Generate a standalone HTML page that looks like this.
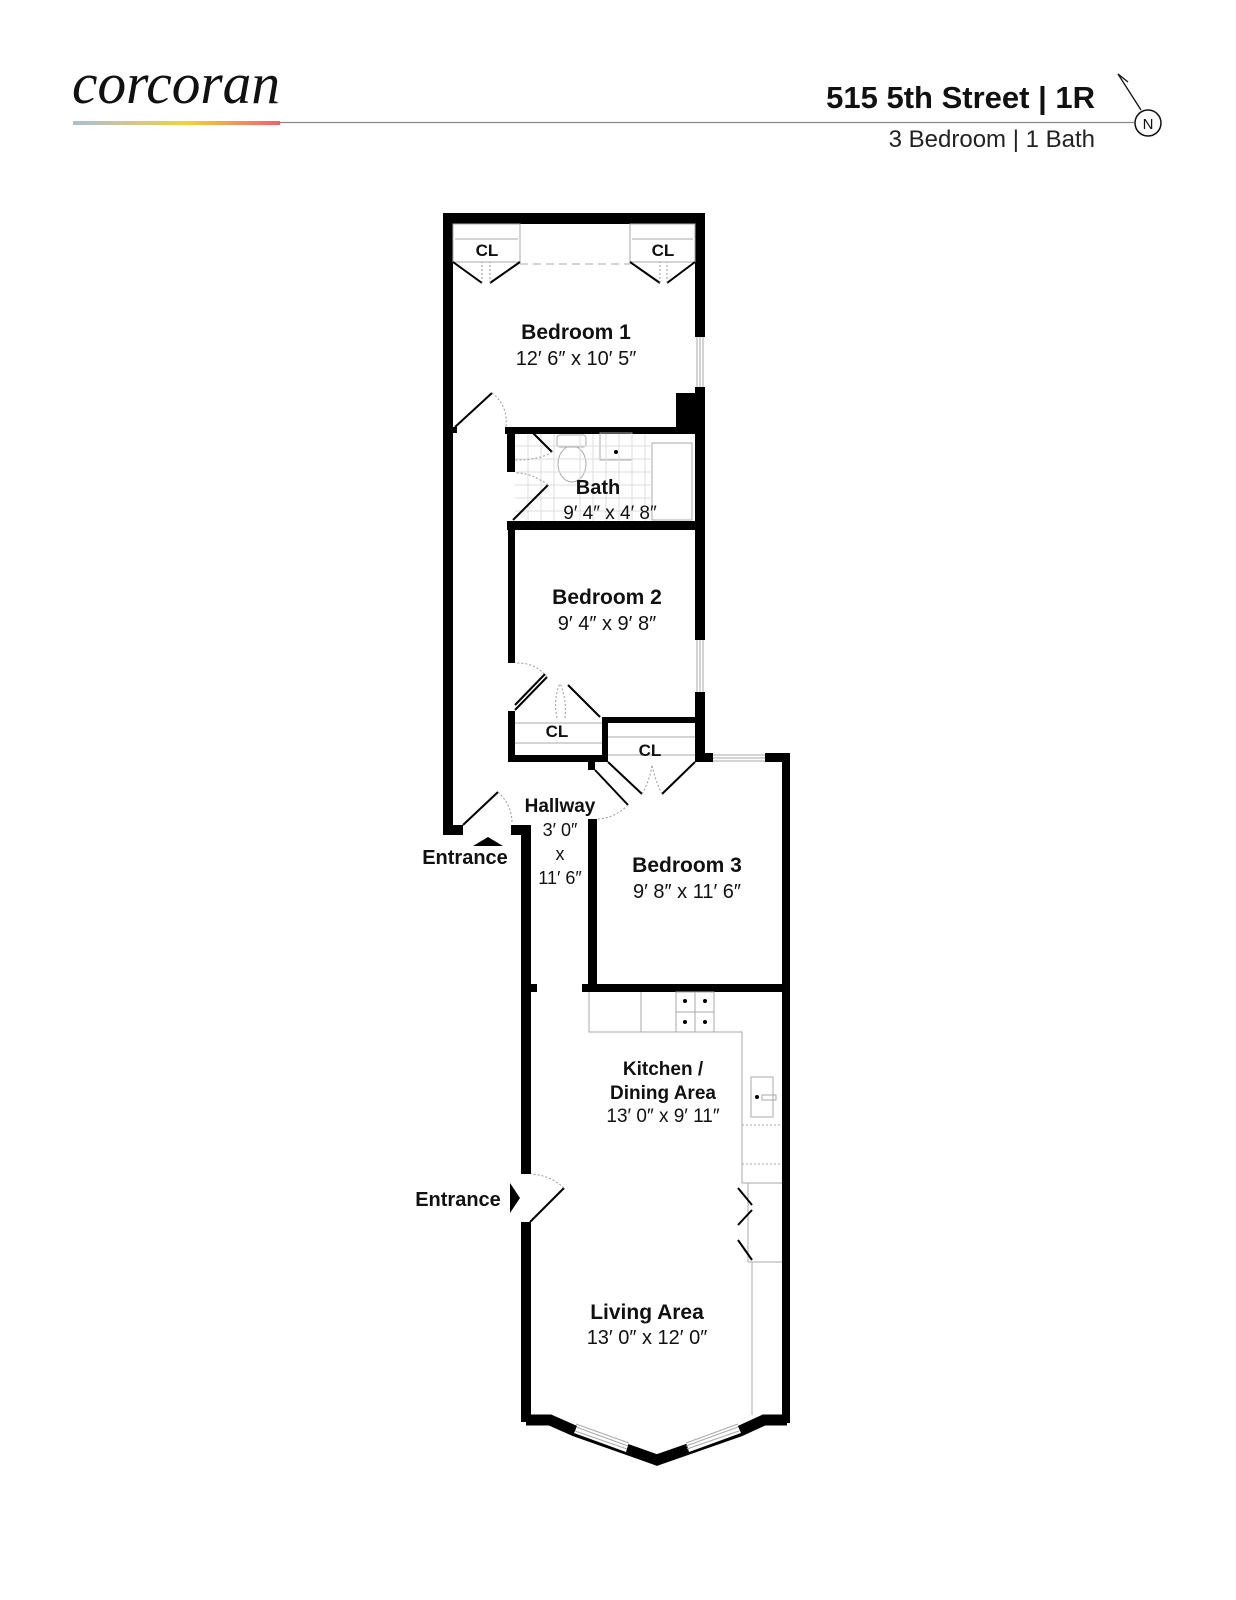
<!DOCTYPE html>
<html><head><meta charset="utf-8"><style>
html,body{margin:0;padding:0;background:#fff;}
svg{display:block;}
text{font-family:"Liberation Sans",sans-serif;}
.logo{font-family:"Liberation Serif",serif;font-style:italic;}
</style></head><body>
<svg width="1236" height="1600" viewBox="0 0 1236 1600" xmlns="http://www.w3.org/2000/svg">
<defs>
<linearGradient id="g" x1="0" x2="1"><stop offset="0" stop-color="#a9bfd6"/><stop offset="0.55" stop-color="#f8cf3c"/><stop offset="1" stop-color="#f3606c"/></linearGradient>
</defs>
<!-- header -->
<text class="logo" x="72" y="103" font-size="58" textLength="208" lengthAdjust="spacingAndGlyphs" fill="#111" style="font-family:'Liberation Serif',serif;font-style:italic">corcoran</text>
<rect x="73" y="121" width="207" height="4" fill="url(#g)"/>
<line x1="280" y1="122.5" x2="1134" y2="122.5" stroke="#888" stroke-width="1.2"/>
<text x="1095" y="108" text-anchor="end" font-size="31" font-weight="bold" fill="#111">515 5th Street | 1R</text>
<text x="1095" y="147" text-anchor="end" font-size="24" fill="#222">3 Bedroom | 1 Bath</text>
<circle cx="1148" cy="123" r="13" fill="none" stroke="#111" stroke-width="1.5"/>
<text x="1148" y="129" text-anchor="middle" font-size="15" fill="#111">N</text>
<line x1="1141" y1="110" x2="1118" y2="74" stroke="#111" stroke-width="1.3"/>
<line x1="1118" y1="74" x2="1128" y2="82" stroke="#111" stroke-width="1.3"/>

<g fill="#000">
<rect x="443" y="213" width="262" height="11"/>
<rect x="443" y="213" width="10" height="622"/>
<rect x="695" y="213" width="10" height="124"/>
<rect x="695" y="387" width="10" height="253"/>
<rect x="676" y="393" width="29" height="40"/>
<rect x="505" y="427" width="200" height="7"/>
<rect x="453" y="427" width="4" height="6"/>
<rect x="507" y="433" width="8" height="39"/>
<rect x="507" y="521" width="198" height="9"/>
<rect x="508" y="521" width="7" height="142"/>
<rect x="695" y="692" width="10" height="70"/>
<rect x="508" y="711" width="7" height="51"/>
<rect x="508" y="755" width="100" height="7"/>
<rect x="602" y="717" width="6" height="45"/>
<rect x="602" y="717" width="103" height="6"/>
<rect x="588" y="762" width="7" height="8"/>
<rect x="695" y="753" width="18" height="9"/>
<rect x="765" y="753" width="25" height="9"/>
<rect x="782" y="753" width="8" height="670"/>
<rect x="588" y="819" width="9" height="173"/>
<rect x="582" y="984" width="208" height="8"/>
<rect x="443" y="825" width="20" height="10"/>
<rect x="511" y="825" width="20" height="10"/>
<rect x="521" y="825" width="10" height="349"/>
<rect x="521" y="984" width="16" height="8"/>
<rect x="521" y="1222" width="10" height="200"/>
<polygon points="473,846 503,846 488,837"/>
<polygon points="510,1183 520,1198 510,1213"/>
</g>
<polyline points="526,1420 550,1420 575,1431 657,1460 740,1431 764,1420 787,1420" fill="none" stroke="#000" stroke-width="11" stroke-linejoin="miter"/>
<polygon points="578,1424 629,1442 626,1452 574,1433" fill="#fff"/>
<polygon points="686,1442 737,1424 741,1433 689,1452" fill="#fff"/>
<g stroke="#aaa" stroke-width="1" fill="none">
<line x1="576" y1="1427" x2="628" y2="1446"/><line x1="575" y1="1431" x2="627" y2="1449"/><line x1="576" y1="1424" x2="629" y2="1443"/>
<line x1="686" y1="1446" x2="738" y2="1427"/><line x1="687" y1="1449" x2="739" y2="1431"/><line x1="686" y1="1443" x2="738" y2="1424"/>
<line x1="697" y1="337" x2="697" y2="387"/><line x1="700" y1="337" x2="700" y2="387"/><line x1="703" y1="337" x2="703" y2="387"/>
<line x1="697" y1="640" x2="697" y2="692"/><line x1="700" y1="640" x2="700" y2="692"/><line x1="703" y1="640" x2="703" y2="692"/>
<line x1="713" y1="755" x2="765" y2="755"/><line x1="713" y1="758" x2="765" y2="758"/><line x1="713" y1="761" x2="765" y2="761"/>
<rect x="453" y="224" width="67" height="38"/>
<rect x="630" y="224" width="65" height="38"/>
<line x1="455" y1="239" x2="518" y2="239"/><line x1="632" y1="239" x2="693" y2="239"/>
<line x1="520" y1="264" x2="630" y2="264" stroke-dasharray="8,5"/>
<line x1="515" y1="723" x2="602" y2="723"/><line x1="515" y1="743" x2="602" y2="743"/>
<line x1="608" y1="737" x2="695" y2="737"/><line x1="608" y1="755" x2="695" y2="755"/>
<polyline points="589,992 589,1032 742,1032 742,1183 782,1183"/>
<line x1="641" y1="992" x2="641" y2="1032"/>
<rect x="676" y="992" width="38" height="40"/>
<line x1="695" y1="992" x2="695" y2="1032"/><line x1="676" y1="1012" x2="714" y2="1012"/>
<rect x="751" y="1077" width="22" height="40"/>
<rect x="762" y="1095" width="14" height="5"/>
<line x1="742" y1="1125" x2="782" y2="1125" stroke-dasharray="2,2"/>
<line x1="742" y1="1164" x2="782" y2="1164" stroke-dasharray="2,2"/>
<line x1="748" y1="1183" x2="748" y2="1262"/><line x1="748" y1="1262" x2="782" y2="1262"/>
<line x1="752" y1="1262" x2="752" y2="1415"/>
<rect x="652" y="443" width="40" height="77"/>
<rect x="600" y="433" width="32" height="27"/>
<rect x="557" y="435" width="29" height="12" rx="3"/>
<ellipse cx="572" cy="464" rx="14" ry="18"/>
</g>
<g stroke="#ddd" stroke-width="1">
<line x1="515" y1="446" x2="652" y2="446"/><line x1="515" y1="459" x2="652" y2="459"/><line x1="515" y1="472" x2="652" y2="472"/><line x1="515" y1="485" x2="652" y2="485"/><line x1="515" y1="498" x2="652" y2="498"/><line x1="515" y1="511" x2="652" y2="511"/>
<line x1="528" y1="434" x2="528" y2="521"/><line x1="541" y1="434" x2="541" y2="521"/><line x1="554" y1="434" x2="554" y2="521"/><line x1="580" y1="434" x2="580" y2="521"/><line x1="593" y1="434" x2="593" y2="521"/><line x1="606" y1="434" x2="606" y2="521"/><line x1="619" y1="434" x2="619" y2="521"/><line x1="632" y1="434" x2="632" y2="521"/><line x1="645" y1="434" x2="645" y2="521"/>
</g>
<g fill="#000"><circle cx="616" cy="452" r="2"/><circle cx="757" cy="1097" r="2"/>
<circle cx="685" cy="1001" r="2"/><circle cx="705" cy="1001" r="2"/><circle cx="685" cy="1022" r="2"/><circle cx="705" cy="1022" r="2"/></g>
<g stroke="#000" stroke-width="2" fill="none">
<line x1="455" y1="427" x2="492" y2="393"/>
<line x1="453" y1="262" x2="482" y2="283"/><line x1="520" y1="262" x2="490" y2="283"/>
<line x1="630" y1="262" x2="660" y2="283"/><line x1="695" y1="262" x2="667" y2="283"/>
<line x1="533" y1="433" x2="552" y2="452"/>
<line x1="513" y1="520" x2="548" y2="485"/>
<line x1="515" y1="710" x2="547" y2="677"/><line x1="515" y1="705" x2="545" y2="674"/>
<line x1="568" y1="685" x2="600" y2="717"/>
<line x1="608" y1="762" x2="642" y2="794"/><line x1="662" y1="794" x2="695" y2="762"/>
<line x1="595" y1="770" x2="628" y2="805"/>
<line x1="463" y1="825" x2="498" y2="792"/>
<line x1="530" y1="1222" x2="564" y2="1188"/>
<line x1="738" y1="1188" x2="752" y2="1205"/><line x1="752" y1="1210" x2="738" y2="1225"/><line x1="738" y1="1240" x2="752" y2="1260"/>
</g>
<g stroke="#999" stroke-width="1" fill="none" stroke-dasharray="2,2">
<path d="M492,393 Q508,405 506,427"/>
<path d="M552,452 Q540,460 515,460"/>
<path d="M548,485 Q530,472 515,473"/>
<path d="M547,677 Q535,662 515,663"/>
<path d="M498,792 Q512,805 512,823"/>
<path d="M628,805 Q615,818 598,819"/>
<path d="M564,1188 Q550,1175 531,1174"/>
<path d="M482,283 L482,262 M490,283 L490,262 M660,283 L660,262 M667,283 L667,262"/>
<path d="M557,718 Q553,700 560,683 M565,718 Q567,700 560,683"/>
<path d="M642,794 Q650,780 652,765 M662,794 Q655,780 652,765"/>
</g>
<g fill="#111" text-anchor="middle">
<text x="487" y="256" font-size="17" font-weight="bold">CL</text>
<text x="663" y="256" font-size="17" font-weight="bold">CL</text>
<text x="576" y="339" font-size="21" font-weight="bold">Bedroom 1</text>
<text x="576" y="365" font-size="20">12′ 6″ x 10′ 5″</text>
<text x="598" y="494" font-size="20" font-weight="bold">Bath</text>
<text x="610" y="519" font-size="19">9′ 4″ x 4′ 8″</text>
<text x="607" y="604" font-size="21" font-weight="bold">Bedroom 2</text>
<text x="607" y="630" font-size="20">9′ 4″ x 9′ 8″</text>
<text x="557" y="737" font-size="17" font-weight="bold">CL</text>
<text x="650" y="756" font-size="17" font-weight="bold">CL</text>
<text x="560" y="812" font-size="19" font-weight="bold">Hallway</text>
<text x="560" y="836" font-size="18">3′ 0″</text>
<text x="560" y="860" font-size="18">x</text>
<text x="560" y="884" font-size="18">11′ 6″</text>
<text x="465" y="864" font-size="20" font-weight="bold">Entrance</text>
<text x="687" y="872" font-size="21" font-weight="bold">Bedroom 3</text>
<text x="687" y="898" font-size="20">9′ 8″ x 11′ 6″</text>
<text x="663" y="1075" font-size="19" font-weight="bold">Kitchen /</text>
<text x="663" y="1099" font-size="19" font-weight="bold">Dining Area</text>
<text x="663" y="1122" font-size="19">13′ 0″ x 9′ 11″</text>
<text x="458" y="1206" font-size="20" font-weight="bold">Entrance</text>
<text x="647" y="1319" font-size="21" font-weight="bold">Living Area</text>
<text x="647" y="1344" font-size="20">13′ 0″ x 12′ 0″</text>
</g>
</svg>
</body></html>
